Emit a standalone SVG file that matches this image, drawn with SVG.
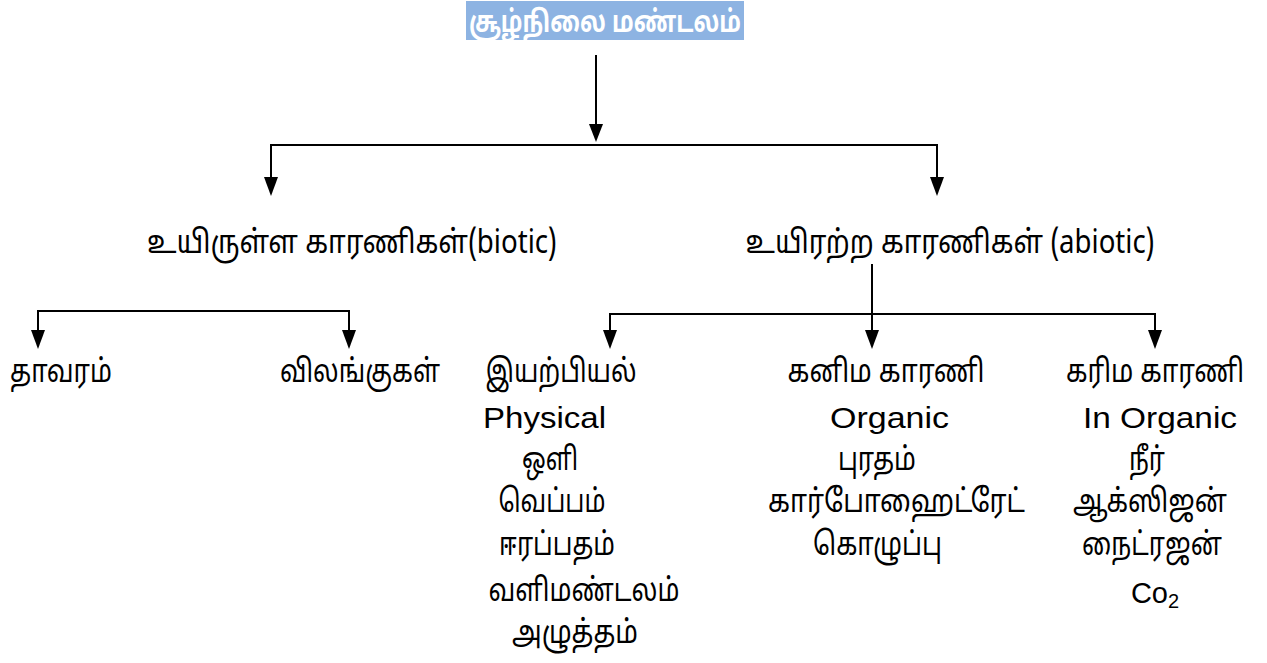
<svg xmlns="http://www.w3.org/2000/svg" width="1267" height="663" viewBox="0 0 1267 663">
<style>
.t{font-family:"Noto Sans Tamil","Lohit Tamil","Latha","Noto Sans","Liberation Sans",sans-serif;font-size:32px;fill:#000;text-anchor:middle}
.e{font-family:"Liberation Sans",Arial,sans-serif;font-size:29px;fill:#000;text-anchor:middle}
.ln{stroke:#000;stroke-width:2;fill:none}
.ah{fill:#000}
</style>
<g id="title">
<rect x="466" y="1" width="278" height="39" fill="#8DB3E2"/>
<text x="605" y="32" class="t" style="fill:#fff;font-weight:bold;font-size:30px" textLength="272" lengthAdjust="spacingAndGlyphs">சூழ்நிலை மண்டலம்</text>
</g>
<g id="connectors">
<line x1="596" y1="55" x2="596" y2="130" class="ln"/>
<path class="ah" d="M589,124 L603,124 L596,142 Z"/>
<polyline points="271,185 271,145 937,145 937,185" class="ln"/>
<path class="ah" d="M264,177 L278,177 L271,196 Z"/>
<path class="ah" d="M930,177 L944,177 L937,196 Z"/>
<polyline points="38,335 38,311 349,311 349,335" class="ln"/>
<path class="ah" d="M31,330 L45,330 L38,349 Z"/>
<path class="ah" d="M342,330 L356,330 L349,349 Z"/>
<line x1="872" y1="264" x2="872" y2="335" class="ln"/>
<path class="ah" d="M865,330 L879,330 L872,349 Z"/>
<polyline points="610,335 610,314 1155,314 1155,335" class="ln"/>
<path class="ah" d="M603,330 L617,330 L610,349 Z"/>
<path class="ah" d="M1148,330 L1162,330 L1155,349 Z"/>
</g>
<g id="biotic"><text x="352" y="253" class="t" textLength="410" lengthAdjust="spacingAndGlyphs">உயிருள்ள காரணிகள்(biotic)</text></g>
<g id="abiotic"><text x="950" y="253" class="t" textLength="409" lengthAdjust="spacingAndGlyphs">உயிரற்ற காரணிகள் (abiotic)</text></g>
<g id="plants"><text x="61" y="382" class="t" textLength="102" lengthAdjust="spacingAndGlyphs">தாவரம்</text></g>
<g id="animals"><text x="360" y="382" class="t" textLength="160" lengthAdjust="spacingAndGlyphs">விலங்குகள்</text></g>
<g id="physical">
<text x="561" y="382" class="t" textLength="151" lengthAdjust="spacingAndGlyphs">இயற்பியல்</text>
<text x="544.5" y="428" class="e" textLength="123" lengthAdjust="spacingAndGlyphs">Physical</text>
<text x="550" y="470" class="t" textLength="56" lengthAdjust="spacingAndGlyphs">ஒளி</text>
<text x="552" y="512" class="t" textLength="107" lengthAdjust="spacingAndGlyphs">வெப்பம்</text>
<text x="557" y="555" class="t" textLength="116" lengthAdjust="spacingAndGlyphs">ஈரப்பதம்</text>
<text x="584" y="601" class="t" textLength="191" lengthAdjust="spacingAndGlyphs">வளிமண்டலம்</text>
<text x="575" y="643" class="t" textLength="126" lengthAdjust="spacingAndGlyphs">அழுத்தம்</text>
</g>
<g id="organic">
<text x="886" y="382" class="t" textLength="197" lengthAdjust="spacingAndGlyphs">கனிம காரணி</text>
<text x="889.5" y="428" class="e" textLength="119" lengthAdjust="spacingAndGlyphs">Organic</text>
<text x="877" y="470" class="t" textLength="78" lengthAdjust="spacingAndGlyphs">புரதம்</text>
<text x="896.5" y="512" class="t" textLength="257" lengthAdjust="spacingAndGlyphs">கார்போஹைட்ரேட்</text>
<text x="877.5" y="555" class="t" textLength="129" lengthAdjust="spacingAndGlyphs">கொழுப்பு</text>
</g>
<g id="inorganic">
<text x="1155" y="382" class="t" textLength="178" lengthAdjust="spacingAndGlyphs">கரிம காரணி</text>
<text x="1160" y="428" class="e" textLength="154" lengthAdjust="spacingAndGlyphs">In Organic</text>
<text x="1147" y="470" class="t" textLength="36" lengthAdjust="spacingAndGlyphs">நீர்</text>
<text x="1150" y="512" class="t" textLength="154" lengthAdjust="spacingAndGlyphs">ஆக்ஸிஜன்</text>
<text x="1152" y="555" class="t" textLength="140" lengthAdjust="spacingAndGlyphs">நைட்ரஜன்</text>
<text x="1155" y="603" class="e">Co<tspan font-size="20" dy="5">2</tspan></text>
</g>
</svg>
